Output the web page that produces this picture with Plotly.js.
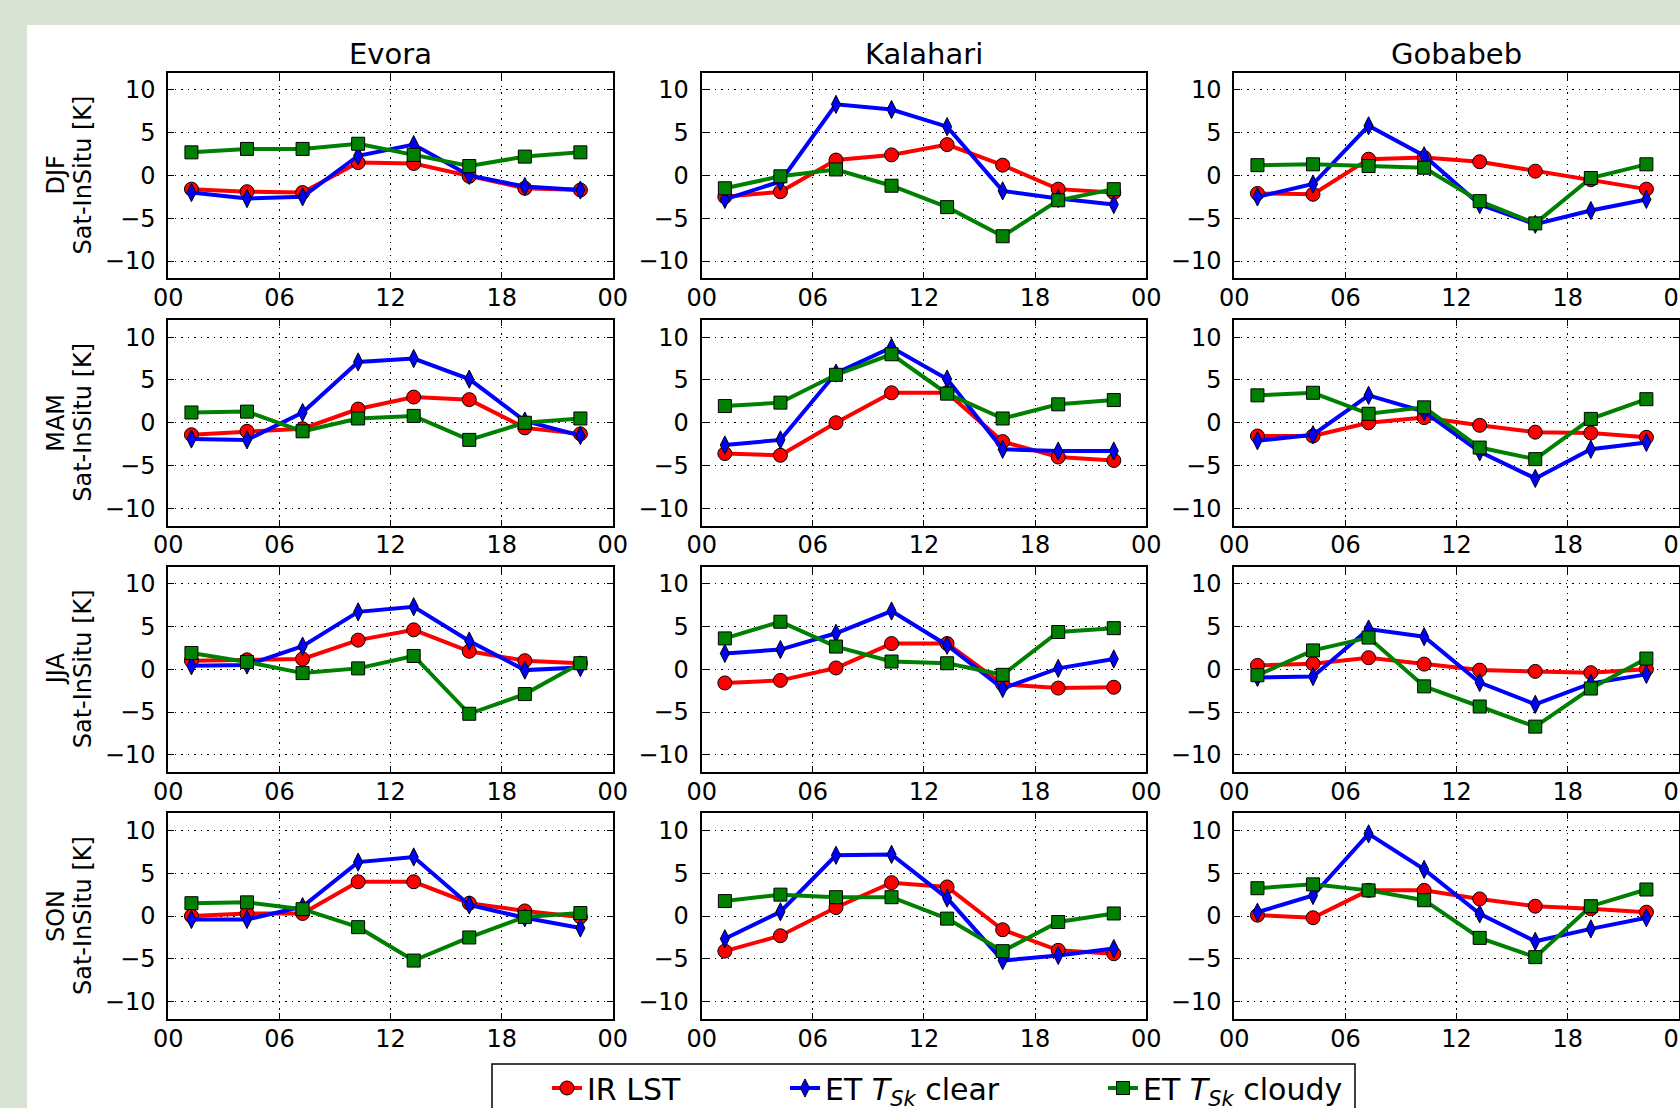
<!DOCTYPE html>
<html>
<head>
<meta charset="utf-8">
<script src="https://cdn.plot.ly/plotly-3.0.1.min.js"></script>
<style>
html,body{margin:0;padding:0;background:#d8e2d2;}
#chart{width:1680px;height:1108px;}
</style>
</head>
<body>
<div id="chart"></div>
<script>
// ---------- data ----------
const hours = [1.25, 4.25, 7.25, 10.25, 13.25, 16.25, 19.25, 22.25];
const sites = ["Evora", "Kalahari", "Gobabeb"];
const seasons = ["DJF", "MAM", "JJA", "SON"];
const xTickVals = [0, 6, 12, 18, 24];
const xTickText = ["00", "06", "12", "18", "00"];
const yTickVals = [-10, -5, 0, 5, 10];
const seriesNames = ["IR LST", "ET <i>T</i><sub><i>Sk</i></sub> clear", "ET <i>T</i><sub><i>Sk</i></sub> cloudy"];

// rows: DJF, MAM, JJA, SON
const irLST_Evora = [
  [-1.6, -1.9, -2.0, 1.5, 1.4, -0.1, -1.5, -1.7],
  [-1.4, -1.0, -0.7, 1.6, 3.0, 2.7, -0.6, -1.3],
  [1.0, 1.1, 1.2, 3.4, 4.6, 2.1, 1.0, 0.7],
  [0.0, 0.3, 0.3, 4.0, 4.0, 1.5, 0.6, -0.1]
];
const etClear_Evora = [
  [-2.0, -2.7, -2.5, 2.3, 3.6, 0.0, -1.3, -1.7],
  [-1.9, -2.0, 1.2, 7.1, 7.5, 5.1, 0.2, -1.5],
  [0.4, 0.5, 2.7, 6.7, 7.3, 3.3, -0.1, 0.2],
  [-0.4, -0.4, 1.1, 6.3, 6.9, 1.3, -0.2, -1.4]
];
const etCloudy_Evora = [
  [2.7, 3.1, 3.1, 3.7, 2.4, 1.1, 2.2, 2.7],
  [1.2, 1.3, -1.0, 0.5, 0.8, -2.0, 0.0, 0.5],
  [1.9, 0.85, -0.45, 0.1, 1.55, -5.2, -2.9, 0.7],
  [1.5, 1.6, 0.8, -1.3, -5.2, -2.5, -0.1, 0.35]
];
const irLST_Kalahari = [
  [-2.5, -1.9, 1.8, 2.4, 3.6, 1.2, -1.6, -2.0],
  [-3.6, -3.8, 0.0, 3.5, 3.5, -2.2, -4.0, -4.4],
  [-1.6, -1.3, 0.15, 3.0, 3.0, -1.75, -2.2, -2.1],
  [-4.1, -2.3, 1.0, 3.9, 3.4, -1.6, -4.0, -4.4]
];
const etClear_Kalahari = [
  [-2.8, -0.7, 8.3, 7.7, 5.7, -1.8, -2.7, -3.4],
  [-2.6, -2.0, 5.8, 8.8, 5.1, -3.1, -3.3, -3.3],
  [1.85, 2.3, 4.2, 6.8, 2.8, -2.25, 0.1, 1.2],
  [-2.65, 0.5, 7.1, 7.2, 2.1, -5.2, -4.6, -3.8]
];
const etCloudy_Kalahari = [
  [-1.5, -0.1, 0.7, -1.2, -3.7, -7.1, -2.9, -1.6],
  [1.95, 2.35, 5.6, 8.0, 3.4, 0.5, 2.15, 2.65],
  [3.6, 5.55, 2.65, 0.9, 0.7, -0.65, 4.35, 4.8],
  [1.75, 2.5, 2.2, 2.2, -0.3, -4.1, -0.7, 0.3]
];
const irLST_Gobabeb = [
  [-2.1, -2.2, 1.9, 2.1, 1.6, 0.5, -0.5, -1.6],
  [-1.55, -1.55, 0.0, 0.6, -0.3, -1.1, -1.2, -1.7],
  [0.45, 0.65, 1.35, 0.6, -0.1, -0.25, -0.4, 0.0],
  [0.1, -0.2, 3.0, 3.0, 2.0, 1.15, 0.85, 0.45]
];
const etClear_Gobabeb = [
  [-2.5, -1.0, 5.8, 2.3, -3.4, -5.7, -4.1, -2.8],
  [-2.1, -1.4, 3.2, 1.3, -3.4, -6.5, -3.1, -2.3],
  [-0.95, -0.85, 4.7, 3.8, -1.55, -4.1, -1.65, -0.6],
  [0.45, 2.4, 9.6, 5.45, 0.25, -2.95, -1.5, -0.2]
];
const etCloudy_Gobabeb = [
  [1.2, 1.3, 1.1, 0.9, -3.0, -5.6, -0.3, 1.3],
  [3.2, 3.5, 1.05, 1.8, -2.9, -4.25, 0.45, 2.75],
  [-0.7, 2.2, 3.7, -2.0, -4.35, -6.7, -2.25, 1.25],
  [3.25, 3.7, 3.0, 1.85, -2.55, -4.8, 1.15, 3.1]
];

// ---------- layout geometry ----------
const W = 1680, H = 1108;
const FONT = "DejaVu Sans, Liberation Sans, sans-serif";
const colLeft = [168.3, 701.7, 1234.3];
const colWidth = 444.5;
const rowTop = [72.7, 320, 566.5, 813.3];
const rowHeight = 205.5;

const siteData = {
  Evora: [irLST_Evora, etClear_Evora, etCloudy_Evora],
  Kalahari: [irLST_Kalahari, etClear_Kalahari, etCloudy_Kalahari],
  Gobabeb: [irLST_Gobabeb, etClear_Gobabeb, etCloudy_Gobabeb]
};
const styles = [
  {color: "#ff0000", symbol: "circle", size: 14},
  {color: "#0000ff", symbol: "diamond-tall", size: 13},
  {color: "#008000", symbol: "square", size: 13}
];
const legendIds = ["legend", "legend2", "legend3"];

const traces = [];
const layout = {
  width: W, height: H,
  margin: {l: 0, r: 0, t: 0, b: 0, autoexpand: false},
  paper_bgcolor: "#d8e2d2",
  plot_bgcolor: "#ffffff",
  font: {family: FONT, size: 24, color: "#000"},
  showlegend: true,
  annotations: [],
  shapes: [
    {type: "rect", xref: "paper", yref: "paper", layer: "below",
     x0: 27 / W, x1: 1.02, y0: -0.02, y1: 1 - 25 / H,
     fillcolor: "#ffffff", line: {width: 0}},
    {type: "rect", xref: "paper", yref: "paper", layer: "above",
     x0: 492 / W, x1: 1355 / W, y0: -0.02, y1: 1 - 1064 / H,
     fillcolor: "rgba(0,0,0,0)", line: {color: "#000", width: 1.5}}
  ]
};

for (let r = 0; r < seasons.length; r++) {
  for (let c = 0; c < sites.length; c++) {
    const idx = r * 3 + c + 1;
    const xa = "xaxis" + (idx === 1 ? "" : idx);
    const ya = "yaxis" + (idx === 1 ? "" : idx);
    const xr = "x" + (idx === 1 ? "" : idx);
    const yr = "y" + (idx === 1 ? "" : idx);
    const x0 = colLeft[c] / W, x1 = (colLeft[c] + colWidth) / W;
    const y1 = 1 - rowTop[r] / H, y0 = 1 - (rowTop[r] + rowHeight) / H;
    const common = {
      showline: true, linecolor: "#000", linewidth: 2, mirror: "ticks",
      ticks: "inside", ticklen: 6, tickwidth: 1, tickcolor: "#000",
      showgrid: true, gridcolor: "#000", gridwidth: 1, griddash: "1.5px,5px",
      zeroline: false, fixedrange: true, ticklabeloverflow: "allow",
      tickfont: {family: FONT, size: 24, color: "#000"}
    };
    layout[xa] = Object.assign({}, common, {
      domain: [x0, x1], anchor: yr, range: [0, 24],
      tickmode: "array", tickvals: xTickVals, ticktext: xTickText,
      ticklabelstandoff: -3
    });
    layout[ya] = Object.assign({}, common, {
      domain: [y0, y1], anchor: xr, range: [-12, 12],
      tickmode: "array", tickvals: yTickVals,
      ticklabelstandoff: 6
    });
    const series = siteData[sites[c]];
    for (let s = 0; s < 3; s++) {
      traces.push({
        type: "scatter", mode: "lines+markers",
        x: hours, y: series[s][r], xaxis: xr, yaxis: yr,
        name: seriesNames[s],
        legend: legendIds[s],
        showlegend: idx === 1,
        line: {color: styles[s].color, width: 4},
        marker: {symbol: styles[s].symbol, size: styles[s].size,
                 color: styles[s].color, line: {color: "#000", width: 1}},
        cliponaxis: false
      });
    }
    if (r === 0) {
      layout.annotations.push({
        xref: "paper", yref: "paper", x: (colLeft[c] + colWidth / 2) / W,
        y: 1 - 53.5 / H, xanchor: "center", yanchor: "middle",
        text: sites[c], showarrow: false,
        font: {family: FONT, size: 29, color: "#000"}
      });
    }
    if (c === 0) {
      const yc = 1 - (rowTop[r] + rowHeight / 2) / H;
      layout.annotations.push({
        xref: "paper", yref: "paper", x: 56 / W, y: yc,
        xanchor: "center", yanchor: "middle", textangle: -90,
        text: seasons[r], showarrow: false,
        font: {family: FONT, size: 24, color: "#000"}
      });
      layout.annotations.push({
        xref: "paper", yref: "paper", x: 83 / W, y: yc,
        xanchor: "center", yanchor: "middle", textangle: -90,
        text: "Sat-InSitu [K]", showarrow: false,
        font: {family: FONT, size: 24, color: "#000"}
      });
    }
  }
}

const legendBase = {
  orientation: "h", xanchor: "left", yanchor: "middle",
  y: 1 - 1088 / H, bgcolor: "rgba(0,0,0,0)", borderwidth: 0,
  font: {family: FONT, size: 30, color: "#000"}
};
layout.legend = Object.assign({}, legendBase, {x: 547 / W});
layout.legend2 = Object.assign({}, legendBase, {x: 785 / W});
layout.legend3 = Object.assign({}, legendBase, {x: 1103 / W});

Plotly.newPlot("chart", traces, layout, {staticPlot: true, displayModeBar: false});
</script>
</body>
</html>
